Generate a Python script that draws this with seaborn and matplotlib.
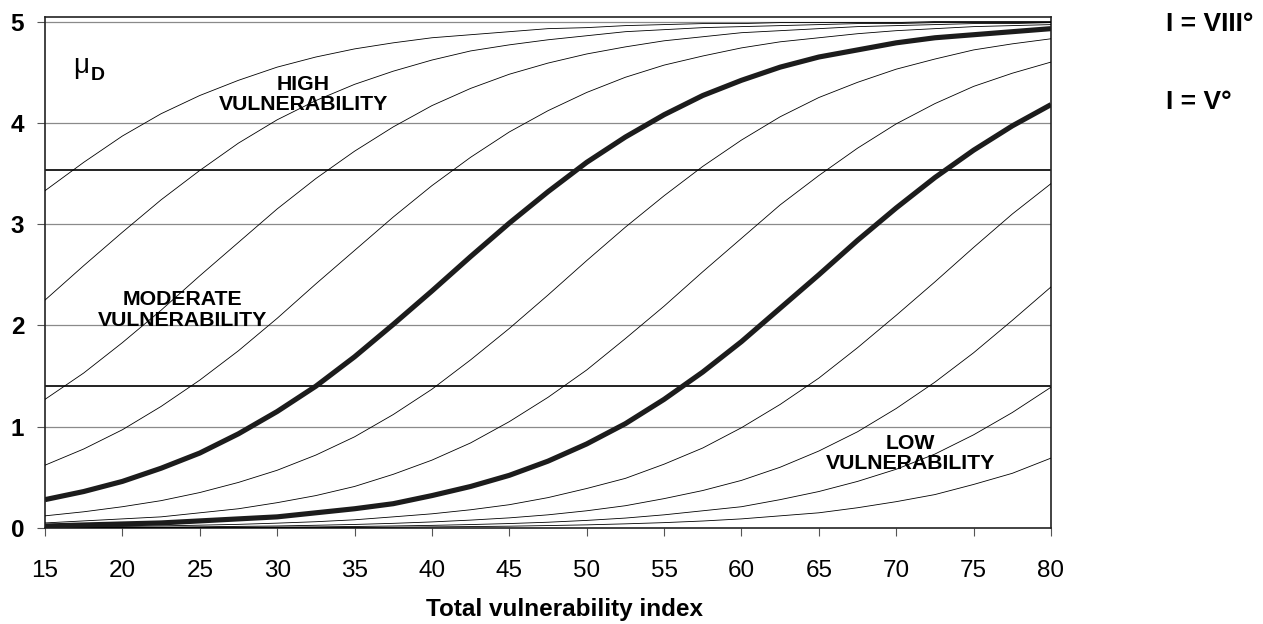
import matplotlib
matplotlib.use("Agg")
import matplotlib.pyplot as plt
import seaborn as sns
import pandas as pd

# ---------------- data ----------------
vuln_index = [15, 17.5, 20, 22.5, 25, 27.5, 30, 32.5, 35, 37.5, 40, 42.5, 45, 47.5,
              50, 52.5, 55, 57.5, 60, 62.5, 65, 67.5, 70, 72.5, 75, 77.5, 80]

mu_I12 = [3.33, 3.61, 3.87, 4.09, 4.27, 4.42, 4.55, 4.65, 4.73, 4.79, 4.84, 4.87, 4.90, 4.93,
          4.94, 4.96, 4.97, 4.98, 4.98, 4.99, 4.99, 4.99, 4.99, 5.00, 5.00, 5.00, 5.00]
mu_I11 = [2.25, 2.59, 2.92, 3.24, 3.53, 3.80, 4.03, 4.22, 4.38, 4.51, 4.62, 4.71, 4.77, 4.82,
          4.86, 4.90, 4.92, 4.94, 4.95, 4.96, 4.97, 4.98, 4.98, 4.99, 4.99, 4.99, 4.99]
mu_I10 = [1.27, 1.53, 1.83, 2.15, 2.49, 2.82, 3.15, 3.45, 3.72, 3.96, 4.17, 4.34, 4.48, 4.59,
          4.68, 4.75, 4.81, 4.85, 4.89, 4.91, 4.93, 4.95, 4.96, 4.97, 4.98, 4.98, 4.99]
mu_I9 = [0.62, 0.78, 0.97, 1.20, 1.46, 1.75, 2.07, 2.41, 2.74, 3.07, 3.38, 3.66, 3.91, 4.12,
         4.30, 4.45, 4.57, 4.66, 4.74, 4.80, 4.84, 4.88, 4.91, 4.93, 4.95, 4.96, 4.97]
mu_I8 = [0.28, 0.36, 0.46, 0.59, 0.74, 0.93, 1.15, 1.40, 1.69, 2.01, 2.34, 2.68, 3.01, 3.32,
         3.61, 3.86, 4.08, 4.27, 4.42, 4.55, 4.65, 4.72, 4.79, 4.84, 4.87, 4.90, 4.93]
mu_I7 = [0.12, 0.16, 0.21, 0.27, 0.35, 0.45, 0.57, 0.72, 0.90, 1.12, 1.37, 1.66, 1.97, 2.30,
         2.64, 2.97, 3.28, 3.57, 3.83, 4.06, 4.25, 4.40, 4.53, 4.63, 4.72, 4.78, 4.83]
mu_I6 = [0.05, 0.07, 0.09, 0.11, 0.15, 0.19, 0.25, 0.32, 0.41, 0.53, 0.67, 0.84, 1.05, 1.29,
         1.56, 1.87, 2.19, 2.53, 2.86, 3.19, 3.48, 3.75, 3.99, 4.19, 4.36, 4.49, 4.60]
mu_I5 = [0.02, 0.03, 0.04, 0.05, 0.07, 0.09, 0.11, 0.15, 0.19, 0.24, 0.32, 0.41, 0.52, 0.66,
         0.83, 1.03, 1.27, 1.54, 1.84, 2.17, 2.50, 2.84, 3.16, 3.46, 3.73, 3.97, 4.18]
mu_I4 = [0.010, 0.012, 0.016, 0.021, 0.028, 0.036, 0.048, 0.062, 0.081, 0.11, 0.14, 0.18, 0.23,
         0.30, 0.39, 0.49, 0.63, 0.79, 0.99, 1.22, 1.48, 1.78, 2.10, 2.43, 2.77, 3.10, 3.40]
mu_I3 = [0.004, 0.005, 0.007, 0.009, 0.012, 0.016, 0.020, 0.027, 0.035, 0.046, 0.060, 0.078,
         0.10, 0.13, 0.17, 0.22, 0.29, 0.37, 0.47, 0.60, 0.76, 0.95, 1.18, 1.44, 1.73, 2.05, 2.38]
mu_I2 = [0.002, 0.002, 0.003, 0.004, 0.005, 0.007, 0.009, 0.011, 0.015, 0.020, 0.026, 0.034,
         0.044, 0.057, 0.075, 0.098, 0.13, 0.17, 0.21, 0.28, 0.36, 0.46, 0.58, 0.73, 0.92, 1.14, 1.39]
mu_I1 = [0.001, 0.001, 0.001, 0.002, 0.002, 0.003, 0.004, 0.005, 0.006, 0.008, 0.011, 0.014,
         0.018, 0.024, 0.031, 0.041, 0.053, 0.069, 0.090, 0.12, 0.15, 0.20, 0.26, 0.33, 0.43, 0.54, 0.69]

thin_curves = [mu_I12, mu_I11, mu_I10, mu_I9, mu_I7, mu_I6, mu_I4, mu_I3, mu_I2, mu_I1]
thick_curves = {"I = VIII°": mu_I8, "I = V°": mu_I5}

class_limits = [3.53, 1.40]
y_ticks = [0, 1, 2, 3, 4, 5]
x_ticks = [15, 20, 25, 30, 35, 40, 45, 50, 55, 60, 65, 70, 75, 80]
region_labels = ["HIGH\nVULNERABILITY", "MODERATE\nVULNERABILITY", "LOW\nVULNERABILITY"]

# ---------------- style ----------------
sns.set_theme(style="white")
plt.rcParams["font.family"] = ["Liberation Sans", "DejaVu Sans"]
plt.rcParams["text.color"] = "black"
plt.rcParams["axes.labelcolor"] = "black"
plt.rcParams["xtick.color"] = "black"
plt.rcParams["ytick.color"] = "black"

W, H = 1263, 624
fig = plt.figure(figsize=(W / 100, H / 100), dpi=100)
ax = fig.add_axes([45 / W, (H - 528) / H, 1006 / W, 511 / H])

# grid lines
for yv in y_ticks[1:]:
    ax.axhline(yv, color="#8a8a8a", lw=0.9, zorder=1)

# class limits
for yv in class_limits:
    ax.axhline(yv, color="#222222", lw=1.4, zorder=2)

# thin curves
for vals in thin_curves:
    df = pd.DataFrame({"x": vuln_index, "mu": vals})
    sns.lineplot(data=df, x="x", y="mu", ax=ax, color="black", lw=0.6, zorder=3)

# thick curves
for lab, vals in thick_curves.items():
    df = pd.DataFrame({"x": vuln_index, "mu": vals})
    sns.lineplot(data=df, x="x", y="mu", ax=ax, color="#1c1c1c", lw=3.7,
                 zorder=4, solid_capstyle="butt", solid_joinstyle="round")
    ax.text(87.43, vals[-1] + (0.05 if vals[-1] > 4.5 else 0.03), lab,
            ha="left", va="center", fontsize=19, fontweight="bold",
            color="black", clip_on=False)

ax.set_xlim(15, 80)
ax.set_ylim(0, 5.045)
ax.set_xticks(x_ticks)
ax.set_yticks(y_ticks)
ax.set_xlabel("")
ax.set_ylabel("")
ax.grid(False)

for s in ax.spines.values():
    s.set_color("#222222")
    s.set_linewidth(1.2)
    s.set_visible(True)

ax.tick_params(axis="x", which="both", direction="out", length=6, width=0.8,
               color="#555555", labelcolor="black", labelsize=17.5, pad=17, bottom=True)
ax.tick_params(axis="y", which="both", direction="out", length=6, width=0.8,
               color="#555555", labelcolor="black", labelsize=17.5, pad=9, left=True)
for t in ax.get_yticklabels():
    t.set_fontweight("bold")

# region labels
ax.text(31.7, 4.28, region_labels[0], ha="center", va="center", color="black",
        fontsize=15.3, fontweight="bold", linespacing=1.1, zorder=5)
ax.text(23.9, 2.15, region_labels[1], ha="center", va="center", color="black",
        fontsize=15.3, fontweight="bold", linespacing=1.1, zorder=5)
ax.text(70.9, 0.735, region_labels[2], ha="center", va="center", color="black",
        fontsize=15.3, fontweight="bold", linespacing=1.1, zorder=5)

# mu_D label
ax.text(16.8, 4.49, "μ", ha="left", va="baseline", fontsize=20, color="black", zorder=5)
ax.text(17.95, 4.42, "D", ha="left", va="baseline", fontsize=14, color="black",
        fontweight="bold", zorder=5)

# x-axis title
fig.text(564 / W, (H - 616) / H, "Total vulnerability index", ha="center",
         va="baseline", fontsize=17.5, fontweight="bold", color="black")

fig.savefig("out.png", dpi=100)
